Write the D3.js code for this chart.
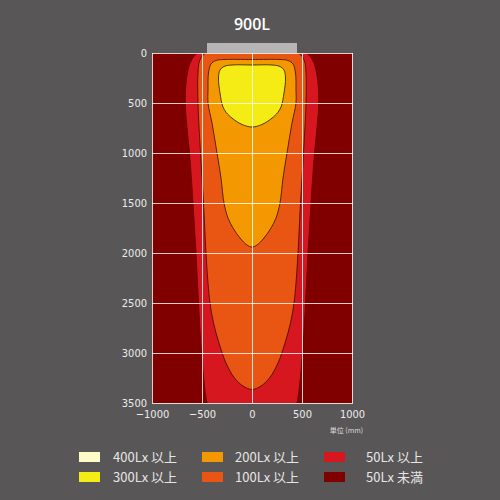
<!DOCTYPE html>
<html>
<head>
<meta charset="utf-8">
<script src="https://cdn.jsdelivr.net/npm/d3@7"></script>
<style>
  body { margin: 0; background: #595657; }
  svg { display: block; }
  .axis text { fill: #ececec; font-family: "DejaVu Sans Condensed", "Liberation Sans Narrow", "Roboto", sans-serif; font-size: 11px; }
</style>
</head>
<body>
<svg id="chart" width="500" height="500"></svg>
<script>
// chart values
var title = "900L";
var xTicks = [-1000, -500, 0, 500, 1000];
var yTicks = [0, 500, 1000, 1500, 2000, 2500, 3000, 3500];
var lampWidth = [-450, 450];
var unitLabel = "単位 (mm)";

// contour profiles: [depth mm, half width mm], right side, top to bottom
var lux50 = [[-80, 0], [-80, 350], [-40, 470], [0, 545], [60, 600], [150, 635], [300, 660], [500, 668], [750, 650], [1000, 625], [1500, 590], [2000, 560], [2500, 535], [3000, 505], [3500, 450], [3650, 400], [3700, 0]];
var lux100 = [[-40, 0], [-40, 350], [-10, 440], [20, 490], [80, 525], [200, 540], [500, 540], [1000, 515], [1500, 485], [2000, 460], [2300, 440], [2500, 420], [2700, 385], [2900, 330], [3100, 260], [3250, 175], [3330, 90], [3365, 0]];
var lux200 = [[65, 0], [65, 280], [75, 360], [110, 410], [200, 435], [370, 440], [500, 440], [700, 400], [1000, 350], [1250, 310], [1500, 280], [1650, 240], [1750, 190], [1850, 120], [1920, 50], [1940, 0]];
var lux300 = [[120, 0], [120, 200], [135, 280], [170, 320], [250, 335], [400, 320], [540, 290], [610, 245], [670, 175], [715, 100], [740, 0]];

var legendLabels = ["400Lx 以上", "300Lx 以上", "200Lx 以上", "100Lx 以上", "50Lx 以上", "50Lx 未満"];
var legendColors = ["#fffbc9", "#f6ec15", "#f39800", "#e95513", "#d7171f", "#800000"];

var svg = d3.select("#chart");

var x = d3.scaleLinear().domain([-1000, 1000]).range([152, 352]);
var y = d3.scaleLinear().domain([0, 3500]).range([53, 403]);

// title
svg.append("text")
    .attr("x", 252)
    .attr("y", 30)
    .attr("text-anchor", "middle")
    .attr("fill", "#ffffff")
    .style("font-family", "'Open Sans', 'DejaVu Sans', sans-serif")
    .style("font-size", "16px")
    .style("font-weight", "600")
    .text(title);

// lamp
svg.append("rect")
    .attr("x", x(lampWidth[0]))
    .attr("y", 43)
    .attr("width", x(lampWidth[1]) - x(lampWidth[0]))
    .attr("height", 10)
    .attr("fill", "#b5b5b5");

svg.append("clipPath").attr("id", "plotclip")
    .append("rect")
    .attr("x", x(-1000)).attr("y", y(0))
    .attr("width", x(1000) - x(-1000))
    .attr("height", y(3500) - y(0));

var plot = svg.append("g").attr("clip-path", "url(#plotclip)");

plot.append("rect")
    .attr("x", x(-1000)).attr("y", y(0))
    .attr("width", x(1000) - x(-1000))
    .attr("height", y(3500) - y(0))
    .attr("fill", legendColors[5]);

function mirror(profile) {
    var right = profile.map(function(p) { return [p[1], p[0]]; });
    var left = profile.slice(1, -1).reverse().map(function(p) { return [-p[1], p[0]]; });
    return right.concat(left);
}

var line = d3.line()
    .x(function(d) { return x(d[0]); })
    .y(function(d) { return y(d[1]); })
    .curve(d3.curveCatmullRomClosed.alpha(0.5));

var contours = [
    { data: lux50, color: legendColors[4], stroke: "#6a0000" },
    { data: lux100, color: legendColors[3], stroke: "#4a1200" },
    { data: lux200, color: legendColors[2], stroke: "#4a1a00" },
    { data: lux300, color: legendColors[1], stroke: "#3a2a00" }
];

plot.selectAll(".contour")
    .data(contours)
    .join("path")
    .attr("class", "contour")
    .attr("d", function(d) { return line(mirror(d.data)); })
    .attr("fill", function(d) { return d.color; })
    .attr("stroke", function(d) { return d.stroke; })
    .attr("stroke-width", 0.9);

// grid
svg.append("g").selectAll("line.vx")
    .data(xTicks)
    .join("line")
    .attr("x1", function(d) { return x(d) + 0.5; })
    .attr("x2", function(d) { return x(d) + 0.5; })
    .attr("y1", y(0))
    .attr("y2", y(3500))
    .attr("stroke", "#ffffff")
    .attr("stroke-opacity", 0.8)
    .attr("stroke-width", 1);

svg.append("g").selectAll("line.hy")
    .data(yTicks)
    .join("line")
    .attr("x1", x(-1000))
    .attr("x2", x(1000) + 1)
    .attr("y1", function(d) { return y(d) + 0.5; })
    .attr("y2", function(d) { return y(d) + 0.5; })
    .attr("stroke", "#ffffff")
    .attr("stroke-opacity", 0.8)
    .attr("stroke-width", 1);

// axes
var xAxis = svg.append("g")
    .attr("class", "axis")
    .attr("transform", "translate(0," + y(3500) + ")")
    .call(d3.axisBottom(x).tickValues(xTicks).tickSize(0).tickPadding(7)
        .tickFormat(function(d) { return d < 0 ? "\u2212" + Math.abs(d) : String(d); }));
xAxis.select(".domain").remove();

var yAxis = svg.append("g")
    .attr("class", "axis")
    .attr("transform", "translate(" + x(-1000) + ",0)")
    .call(d3.axisLeft(y).tickValues(yTicks).tickSize(0).tickPadding(5)
        .tickFormat(function(d) { return String(d); }));
yAxis.select(".domain").remove();

svg.append("text")
    .attr("x", 363)
    .attr("y", 433)
    .attr("text-anchor", "end")
    .attr("fill", "#dcdcdc")
    .style("font-family", "'Noto Sans CJK JP', sans-serif")
    .style("font-size", "7px")
    .text(unitLabel);

// legend
var legendPos = [
    { sx: 79, tx: 113, row: 0 }, { sx: 79, tx: 113, row: 1 },
    { sx: 202, tx: 235, row: 0 }, { sx: 202, tx: 235, row: 1 },
    { sx: 324, tx: 366, row: 0 }, { sx: 324, tx: 366, row: 1 }
];

var legend = svg.append("g").selectAll("g")
    .data(legendLabels)
    .join("g")
    .attr("transform", function(d, i) { return "translate(0," + (452 + legendPos[i].row * 20) + ")"; });

legend.append("rect")
    .attr("x", function(d, i) { return legendPos[i].sx; })
    .attr("y", 0)
    .attr("width", 21)
    .attr("height", 10)
    .attr("fill", function(d, i) { return legendColors[i]; });

legend.append("text")
    .attr("x", function(d, i) { return legendPos[i].tx; })
    .attr("y", 10)
    .attr("fill", "#e6e6e6")
    .style("font-family", "'Noto Sans CJK JP', 'DejaVu Sans', sans-serif")
    .style("font-size", "13px")
    .text(function(d) { return d; });
</script>
</body>
</html>
